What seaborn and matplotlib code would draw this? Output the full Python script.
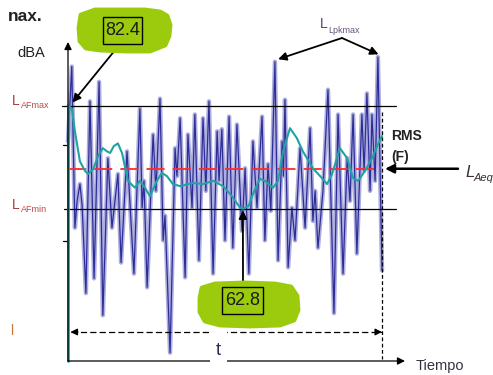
import matplotlib
matplotlib.use("Agg")
import matplotlib.pyplot as plt
import seaborn as sns
from matplotlib.patches import Polygon, Rectangle
from matplotlib.transforms import Affine2D

# Instantaneous A-weighted level: successive peaks and troughs (time in % of the record)
sig_t = [0, 1.2, 2.2, 2.9, 3.8, 4.5, 5.7, 7.0, 8.3, 9.9, 11.1, 12.7, 14.0, 15.9, 16.9,
         18.8, 21.0, 22.9, 23.6, 24.2, 25.2, 27.1, 28.0, 29.3, 30.3, 30.9, 32.5, 34.1,
         34.7, 35.7, 37.3, 38.2, 39.5, 40.4, 41.7, 43.0, 43.9, 44.9, 46.2, 47.5, 48.1,
         49.0, 50.0, 51.3, 52.5, 53.8, 55.4, 56.4, 57.6, 58.9, 60.2, 61.8, 62.7, 63.7,
         64.6, 65.9, 66.9, 68.2, 68.6, 69.1, 70.1, 71.3, 72.3, 73.9, 75.5, 77.1, 78.0,
         78.7, 79.6, 81.2, 82.8, 84.7, 86.0, 87.6, 88.9, 89.8, 90.8, 92.0, 93.6, 94.3,
         95.2, 96.2, 96.8, 97.8, 98.7, 100.0]
sig_db = [75.6, 89.8, 59.2, 64.3, 67.5, 63.4, 46.8, 83.2, 49.6, 86.9, 42.6, 72.4, 59.2,
          69.4, 52.6, 73.7, 50.5, 81.8, 63.0, 68.1, 47.9, 76.9, 66.2, 83.7, 56.8, 61.5,
          35.5, 74.3, 69.0, 80.0, 49.8, 76.9, 63.0, 80.7, 53.0, 80.0, 66.2, 83.2, 50.5,
          77.5, 68.1, 77.9, 56.8, 80.3, 55.4, 78.8, 58.6, 70.5, 50.5, 75.6, 63.0, 80.3,
          56.8, 71.3, 62.4, 90.7, 53.0, 75.6, 69.0, 83.5, 51.7, 63.0, 56.8, 74.3, 59.2,
          78.1, 60.5, 66.2, 55.4, 66.2, 85.4, 43.0, 80.7, 50.5, 72.4, 64.3, 80.7, 54.3,
          80.7, 70.0, 84.7, 66.2, 80.7, 68.1, 91.6, 51.1]

# RMS level with FAST time weighting
rms_t = [0, 1.2, 2.2, 3.8, 5.4, 6.4, 8.0, 9.6, 11.1, 12.4, 13.4, 14.6, 15.9, 17.2, 19.1,
         21.3, 22.9, 24.5, 26.1, 28.3, 29.9, 31.5, 33.4, 35.7, 39.8, 43.0, 46.2, 49.4,
         52.2, 54.8, 55.7, 57.6, 58.9, 61.1, 62.7, 65.3, 66.9, 68.5, 70.7, 72.9, 74.8,
         78.0, 80.9, 82.5, 84.1, 86.6, 88.9, 90.8, 92.4, 94.6, 96.8, 98.7, 100.0]
rms_db = [82.4, 81.8, 77.5, 71.8, 70.0, 69.4, 70.3, 72.8, 74.3, 73.7, 73.4, 74.7, 75.2,
          73.4, 68.1, 66.8, 68.1, 66.8, 65.2, 68.1, 69.6, 69.0, 67.5, 67.1, 67.7, 67.5,
          68.1, 67.1, 65.2, 63.0, 62.8, 63.4, 65.6, 68.5, 68.1, 66.8, 68.1, 73.7, 78.1,
          76.2, 73.7, 70.5, 68.6, 67.5, 69.4, 74.3, 72.4, 68.6, 68.1, 70.0, 72.4, 75.0,
          76.6]

LAF_MAX = 82.4
LAF_MIN = 62.8
LAEQ = 70.4
label_max = "82.4"
label_min = "62.8"
# peaks marked as L_Lpkmax
pk_t = [65.9, 98.7]
pk_db = [90.7, 91.6]

sns.set_theme(style="white")
plt.rcParams["font.family"] = ["Liberation Sans", "DejaVu Sans"]

W, H = 493, 375
fig = plt.figure(figsize=(W / 100, H / 100), dpi=100)
ax = fig.add_axes([0, 0, 1, 1])
ax.set_axis_off()

# page layout: time axis origin and scale, level scale
X0, XS = 68.0, 3.14
Y0, YS = 105.5, 5.27
ax.set_xlim(-X0 / XS, (W - X0) / XS)
ax.set_ylim(LAF_MAX - (H - Y0) / YS, LAF_MAX + Y0 / YS)
px = Affine2D().scale(1 / W, -1 / H).translate(0, 1) + fig.transFigure

def tx(p):
    return (p - X0) / XS

def ly(p):
    return LAF_MAX - (p - Y0) / YS

AX_DB = ly(361)

# reference levels
ax.plot([tx(62), tx(396)], [LAF_MAX] * 2, color="black", lw=0.9, zorder=4)
ax.plot([tx(64), tx(396)], [LAF_MIN] * 2, color="black", lw=0.9, zorder=4)

# instantaneous level
sns.lineplot(x=sig_t, y=sig_db, ax=ax, sort=False, estimator=None,
             color="#aeaede", lw=3.2, zorder=2)
sns.lineplot(x=sig_t, y=sig_db, ax=ax, sort=False, estimator=None,
             color="#2d2d98", lw=0.9, zorder=3)

# Leq
ax.plot([0, 100], [LAEQ] * 2, color="#ff2b2b", lw=1.3, dashes=(10, 4.5), zorder=5)

# RMS (F)
ax.plot([0, 0], [AX_DB, rms_db[0]], color="#1fa3a3", lw=2.0, zorder=6)
sns.lineplot(x=rms_t, y=rms_db, ax=ax, sort=False, estimator=None,
             color="#1fa3a3", lw=1.5, zorder=6)

# axes with arrows
ax.annotate("", xy=(0, ly(42)), xytext=(0, AX_DB),
            arrowprops=dict(arrowstyle="-|>", color="black", lw=0.9,
                            mutation_scale=11, shrinkA=0, shrinkB=0), zorder=7)
ax.annotate("", xy=(tx(405), AX_DB), xytext=(0, AX_DB),
            arrowprops=dict(arrowstyle="-|>", color="black", lw=0.9,
                            mutation_scale=11, shrinkA=0, shrinkB=0), zorder=7)
for yy in (145, 241):
    ax.plot([tx(63), 0], [ly(yy)] * 2, color="black", lw=0.9)

# duration t
T_DB = ly(332)
ax.plot([tx(71), 100], [T_DB] * 2, color="black", lw=0.9, dashes=(5, 2.5), zorder=7)
ax.annotate("", xy=(tx(70.5), T_DB), xytext=(tx(78), T_DB),
            arrowprops=dict(arrowstyle="-|>", color="black", lw=0.9,
                            mutation_scale=10, shrinkA=0, shrinkB=0), zorder=7)
ax.annotate("", xy=(100, T_DB), xytext=(tx(375), T_DB),
            arrowprops=dict(arrowstyle="-|>", color="black", lw=0.9,
                            mutation_scale=10, shrinkA=0, shrinkB=0), zorder=7)
ax.plot([100, 100], [ly(112), ly(359)], color="black", lw=0.9, dashes=(3, 2), zorder=7)
fig.add_artist(Rectangle((210, 325), 17, 42, transform=px, fc="white", ec="none", zorder=8))
fig.text(218.5, 355, "t", transform=px, ha="center", va="baseline",
         fontsize=13, color="#2a2a55", zorder=9)
fig.text(416, 370, "Tiempo", transform=px, ha="left", va="baseline",
         fontsize=10.5, color="#333344")

# left labels
fig.text(8, 21, "nax.", transform=px, ha="left", va="baseline",
         fontsize=12.5, fontweight="bold", color="#222222")
fig.text(17, 57, "dBA", transform=px, ha="left", va="baseline",
         fontsize=10.5, color="#222222")
for base, sub in ((105, "AFmax"), (209, "AFmin")):
    fig.text(12, base, "L", transform=px, ha="left", va="baseline",
             fontsize=10, color="#b03838")
    fig.text(20.5, base + 3, sub, transform=px, ha="left", va="baseline",
             fontsize=6.5, color="#c04848")
fig.text(10, 335, "l", transform=px, ha="left", va="baseline",
         fontsize=10, color="#c8783a")

# highlighted values on hand-drawn green patches
GREEN = "#9bcb0c"
blob_hi = [(81, 15), (95, 10), (120, 10), (145, 10), (160, 12), (167, 16), (170, 25),
           (169, 36), (165, 45), (150, 51), (125, 51), (100, 50), (86, 48), (80, 41),
           (79, 28)]
blob_lo = [(202, 288), (215, 284), (245, 283), (275, 284), (291, 287), (297, 296),
           (298, 310), (294, 320), (280, 325), (250, 326), (220, 325), (205, 321),
           (200, 312), (200, 298)]
for pts in (blob_hi, blob_lo):
    fig.add_artist(Polygon(pts, closed=True, transform=px, fc=GREEN, ec=GREEN,
                           lw=3.5, joinstyle="round", zorder=10))

fig.add_artist(Rectangle((103, 17), 39, 27, transform=px, fc="none",
                         ec="black", lw=1.0, zorder=11))
fig.text(122.5, 30.5, label_max, transform=px, ha="center", va="center",
         fontsize=13, color="#1a1a1a", zorder=12)
ax.annotate("", xy=(tx(72.5), ly(102.5)), xytext=(120, 44), textcoords=px,
            arrowprops=dict(arrowstyle="-|>", color="black", lw=1.3,
                            mutation_scale=12, shrinkA=0, shrinkB=0), zorder=12)

fig.add_artist(Rectangle((222, 287), 41, 27, transform=px, fc="none",
                         ec="black", lw=1.0, zorder=11))
fig.text(242.5, 300.5, label_min, transform=px, ha="center", va="center",
         fontsize=13, color="#1a1a1a", zorder=12)
ax.annotate("", xy=(rms_t[rms_db.index(LAF_MIN)], LAF_MIN - 0.3),
            xytext=(243, 287), textcoords=px,
            arrowprops=dict(arrowstyle="-|>", color="black", lw=1.3,
                            mutation_scale=12, shrinkA=0, shrinkB=0), zorder=12)

# peak labels
fig.text(320, 28, "L", transform=px, ha="left", va="baseline",
         fontsize=10, color="#5a4468")
fig.text(328.5, 33, "Lpkmax", transform=px, ha="left", va="baseline",
         fontsize=6.5, color="#6a5478")
for pt, pd_ in zip(pk_t, pk_db):
    ax.annotate("", xy=(pt + 0.6, pd_ + 0.4), xytext=(342, 38), textcoords=px,
                arrowprops=dict(arrowstyle="-|>", color="black", lw=1.3,
                                mutation_scale=12, shrinkA=0, shrinkB=1), zorder=12)

# RMS / Leq labels
fig.text(391, 140, "RMS", transform=px, ha="left", va="baseline",
         fontsize=10, fontweight="bold", color="#222222")
fig.text(391, 161, "(F)", transform=px, ha="left", va="baseline",
         fontsize=10, fontweight="bold", color="#222222")
fig.text(465, 177, "L", transform=px, ha="left", va="baseline",
         fontsize=12, fontstyle="italic", color="#3a3030")
fig.text(474, 181, "Aeq", transform=px, ha="left", va="baseline",
         fontsize=8, fontstyle="italic", color="#3a3030")
ax.annotate("", xy=(tx(385), LAEQ), xytext=(458, Y0 + (LAF_MAX - LAEQ) * YS),
            textcoords=px,
            arrowprops=dict(arrowstyle="-|>", color="black", lw=1.8,
                            mutation_scale=13, shrinkA=0, shrinkB=0), zorder=12)

fig.savefig("out.png", dpi=100)
